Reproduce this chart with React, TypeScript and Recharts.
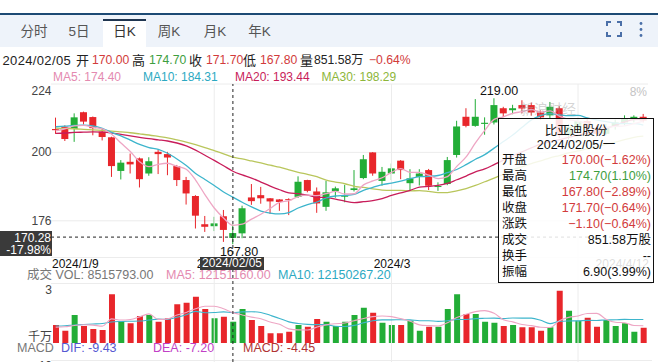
import React from 'react';
import { ComposedChart, Bar, Line, XAxis, YAxis, ReferenceLine, CartesianGrid, Cell } from 'recharts';

const FONT = '"Liberation Sans", Arial, "Noto Sans CJK SC", sans-serif';
const RED = '#e8262b';
const GREEN = '#22ad37';
const TXT_RED = '#d23b3b';
const TXT_GREEN = '#3e9e3e';
const C_MA5 = '#eea6c4';
const C_MA10 = '#3db5cc';
const C_MA20 = '#c81d5a';
const C_MA30 = '#b9c65c';

const dates = [
  '2024/01/09', '2024/01/10', '2024/01/11', '2024/01/12', '2024/01/15', '2024/01/16', '2024/01/17', '2024/01/18', '2024/01/19', '2024/01/22',
  '2024/01/23', '2024/01/24', '2024/01/25', '2024/01/26', '2024/01/29', '2024/01/30', '2024/01/31', '2024/02/01', '2024/02/02', '2024/02/05',
  '2024/02/06', '2024/02/07', '2024/02/08', '2024/02/09', '2024/02/14', '2024/02/15', '2024/02/16', '2024/02/19', '2024/02/20', '2024/02/21',
  '2024/02/22', '2024/02/23', '2024/02/26', '2024/02/27', '2024/02/28', '2024/02/29', '2024/03/01', '2024/03/04', '2024/03/05', '2024/03/06',
  '2024/03/07', '2024/03/08', '2024/03/11', '2024/03/12', '2024/03/13', '2024/03/14', '2024/03/15', '2024/03/18', '2024/03/19', '2024/03/20',
  '2024/03/21', '2024/03/22', '2024/03/25', '2024/03/26', '2024/03/27', '2024/03/28', '2024/04/02', '2024/04/03', '2024/04/05', '2024/04/08',
  '2024/04/09', '2024/04/10', '2024/04/11', '2024/04/12',
];

const opens = [
  208.2, 209.0, 208.2, 214.1, 212.4, 207.3, 205.3, 193.5, 196.7, 197.9,
  192.6, 200.2, 199.4, 195.2, 190.3, 184.7, 174.8, 174.1, 177.6, 170.0,
  171.6, 184.2, 185.0, 183.9, 183.5, 183.6, 184.4, 190.3, 186.3, 180.9,
  186.4, 184.6, 186.8, 191.0, 200.0, 190.0, 192.6, 197.1, 189.2, 191.4,
  193.8, 188.0, 188.9, 199.1, 212.5, 209.3, 210.0, 210.5, 215.5, 214.8,
  216.6, 216.6, 214.0, 213.0, 215.5, 206.0, 208.5, 211.0, 208.5, 206.5,
  209.0, 210.5, 211.5, 212.5,
];
const highs = [
  212.2, 209.5, 213.7, 214.3, 212.6, 208.4, 205.5, 197.3, 199.6, 198.2,
  198.3, 201.0, 200.2, 195.6, 191.4, 185.0, 177.7, 177.4, 179.8, 174.7,
  181.3, 188.9, 187.9, 184.0, 183.6, 183.9, 191.6, 190.4, 187.7, 190.0,
  188.0, 188.6, 193.8, 199.1, 200.1, 194.9, 196.1, 197.3, 194.1, 194.1,
  194.2, 189.5, 198.4, 211.1, 215.5, 218.7, 212.3, 219.0, 216.0, 216.7,
  218.3, 217.5, 214.7, 217.7, 216.2, 210.0, 212.0, 212.0, 209.5, 210.0,
  211.5, 213.0, 213.0, 213.5,
];
const lows = [
  206.5, 204.0, 203.7, 209.8, 206.0, 204.2, 191.4, 190.5, 192.6, 187.7,
  191.8, 192.4, 192.0, 188.2, 181.7, 173.3, 172.1, 172.4, 168.6, 167.8,
  169.9, 181.6, 182.0, 178.4, 179.5, 178.0, 184.0, 186.0, 178.8, 179.5,
  184.1, 182.5, 186.3, 190.6, 191.8, 188.3, 190.3, 190.6, 186.8, 188.4,
  186.8, 186.5, 188.5, 198.2, 208.8, 209.0, 206.2, 209.8, 212.4, 213.4,
  213.7, 212.9, 211.4, 212.0, 205.0, 204.5, 207.5, 207.5, 205.5, 206.0,
  208.0, 209.5, 210.5, 210.5,
];
const closes = [
  207.8, 204.7, 212.3, 210.8, 208.5, 205.4, 195.2, 196.4, 195.8, 190.6,
  196.9, 199.4, 198.2, 190.3, 185.6, 177.8, 173.9, 175.1, 172.8, 171.7,
  180.4, 182.9, 183.9, 182.8, 182.6, 183.3, 189.7, 186.5, 182.1, 186.0,
  187.4, 184.8, 187.4, 197.6, 192.6, 193.2, 194.4, 193.8, 190.9, 192.6,
  188.3, 188.2, 197.3, 209.1, 209.3, 212.5, 210.4, 216.6, 213.7, 215.5,
  215.4, 214.0, 212.3, 216.0, 206.0, 209.0, 211.0, 208.5, 206.5, 209.0,
  210.5, 212.0, 212.5, 211.2,
];
const ma5 = [
  207.6, 208.3, 209.3, 209.5, 208.8, 208.3, 206.4, 203.3, 200.3, 196.7,
  195.0, 195.8, 196.2, 195.1, 194.1, 190.3, 185.2, 180.5, 177.0, 174.4,
  174.8, 176.6, 178.3, 180.3, 182.5, 183.1, 184.5, 185.0, 184.8, 185.5,
  186.3, 185.4, 185.5, 188.6, 190.0, 191.1, 193.0, 194.3, 193.0, 193.0,
  192.0, 190.8, 191.5, 195.1, 198.4, 203.3, 207.7, 211.6, 212.5, 213.7,
  214.3, 215.0, 214.2, 214.6, 212.7, 211.5, 210.9, 210.1, 208.2, 208.8,
  209.1, 209.3, 210.1, 211.0,
];
const ma10 = [
  209.0, 209.2, 209.5, 209.6, 209.3, 208.4, 207.0, 205.8, 204.3, 202.8,
  201.7, 201.1, 199.7, 197.7, 195.4, 192.6, 190.5, 188.4, 186.1, 184.3,
  182.5, 180.9, 179.4, 178.7, 178.4, 178.9, 180.5, 181.7, 182.6, 184.0,
  184.7, 184.9, 185.3, 186.7, 187.7, 188.7, 189.2, 189.9, 190.8, 191.5,
  191.6, 191.9, 192.9, 194.0, 195.7, 197.6, 199.2, 201.5, 203.8, 206.1,
  208.8, 211.4, 212.9, 213.6, 213.2, 212.9, 213.0, 212.1, 211.4, 210.8,
  210.3, 210.1, 210.1, 209.6,
];
const ma20 = [
  206.7, 206.8, 207.0, 207.1, 207.2, 207.1, 206.8, 206.3, 205.8, 205.3,
  204.8, 204.4, 204.0, 203.3, 202.3, 200.8, 199.0, 197.2, 195.3, 193.4,
  192.1, 191.0, 189.6, 188.2, 186.9, 185.8, 185.5, 185.0, 184.3, 184.1,
  183.6, 182.9, 182.4, 182.7, 183.1, 183.8, 184.9, 185.8, 186.7, 187.8,
  188.1, 188.4, 189.1, 190.4, 191.7, 193.2, 194.2, 195.7, 197.3, 198.8,
  200.2, 201.6, 202.9, 203.8, 204.5, 205.3, 206.1, 206.8, 207.6, 208.4,
  209.5, 210.7, 211.5, 211.6,
];
const ma30 = [
  208.5, 208.4, 208.3, 208.1, 207.9, 207.7, 207.5, 207.2, 206.9, 206.5,
  206.1, 205.6, 205.1, 204.4, 203.6, 202.7, 201.7, 200.6, 199.5, 198.3,
  197.7, 197.0, 196.3, 195.5, 194.8, 193.9, 193.0, 192.3, 191.5, 190.3,
  189.6, 189.0, 188.1, 187.7, 187.2, 186.8, 186.7, 186.7, 186.5, 186.6,
  186.3, 185.9, 185.9, 186.5, 187.3, 188.4, 189.7, 191.0, 192.4, 193.9,
  195.0, 196.1, 197.0, 198.1, 198.9, 199.8, 200.5, 201.2, 202.0, 202.8,
  203.6, 204.5, 205.3, 205.7,
];
// volume in 万股
const volumes = [
  720, 490, 1120, 680, 560, 520, 1950, 880, 790, 1080,
  1120, 850, 990, 1550, 1610, 1850, 1360, 990, 1050, 851.58,
  1360, 920, 680, 390, 390, 450, 720, 650, 960, 850,
  680, 850, 1120, 1410, 1210, 810, 720, 720, 890, 490,
  650, 650, 1360, 1950, 1160, 1160, 850, 810, 680, 720,
  630, 630, 490, 630, 2090, 1290, 890, 1010, 650, 920,
  680, 790, 450, 610,
];
const volMa5 = [
  630, 650, 700, 730, 714, 674, 966, 918, 940, 1044,
  1164, 944, 966, 1118, 1224, 1370, 1472, 1472, 1372, 1215.1,
  1122, 1034, 972, 840, 748, 566, 526, 520, 634, 726,
  772, 798, 892, 982, 1054, 1080, 1054, 974, 870, 726,
  694, 680, 808, 1020, 1154, 1256, 1296, 1186, 932, 844,
  738, 694, 630, 620, 894, 1026, 1078, 1182, 1186, 952,
  830, 810, 698, 690,
];
const volMa10 = [
  680, 690, 720, 740, 760, 780, 840, 860, 870, 879,
  919, 955, 942, 1029, 1134, 1267, 1208, 1219, 1245, 1215.0,
  1246, 1253, 1222, 1106, 984, 844, 780, 746, 737, 737,
  669, 662, 706, 808, 890, 926, 926, 933, 926, 890,
  887, 867, 891, 945, 940, 975, 988, 997, 976, 999,
  997, 995, 908, 776, 869, 882, 886, 906, 903, 923,
  928, 944, 940, 938,
];

const priceTicks = [176, 200, 224];
const monthStarts = ['2024/02/01', '2024/03/01', '2024/04/02'];
const crossDate = '2024/02/05';
const crossPrice = 170.28;

const tabs = ['分时', '5日', '日K', '周K', '月K', '年K'];

const tooltipRows = [
  { label: '开盘', value: '170.00(−1.62%)', color: TXT_RED },
  { label: '最高', value: '174.70(1.10%)', color: TXT_GREEN },
  { label: '最低', value: '167.80(−2.89%)', color: TXT_RED },
  { label: '收盘', value: '171.70(−0.64%)', color: TXT_RED },
  { label: '涨跌', value: '−1.10(−0.64%)', color: TXT_RED },
  { label: '成交', value: '851.58万股', color: '#111' },
  { label: '换手', value: '--', color: '#111' },
  { label: '振幅', value: '6.90(3.99%)', color: '#111' },
];

const data = dates.map((d, i) => ({
  date: d,
  open: opens[i],
  high: highs[i],
  low: lows[i],
  close: closes[i],
  range: [lows[i], highs[i]],
  ma5: ma5[i],
  ma10: ma10[i],
  ma20: ma20[i],
  ma30: ma30[i],
  vol: volumes[i],
  vma5: volMa5[i],
  vma10: volMa10[i],
}));

const Candle = (props: any) => {
  const { x, y, width, height, payload } = props;
  if (!payload) return null;
  const { open, close, high, low } = payload;
  const color = close >= open ? GREEN : RED;
  const top = Math.min(y, y + height);
  const h = Math.abs(height);
  const ratio = high > low ? h / (high - low) : 0;
  const bodyTop = top + (high - Math.max(open, close)) * ratio;
  const bodyH = Math.max(1, Math.abs(open - close) * ratio);
  const cx = x + width / 2;
  return (
    <g>
      <line x1={cx} x2={cx} y1={top} y2={top + h} stroke={color} strokeWidth={1} />
      <rect x={x} y={bodyTop} width={width} height={bodyH} fill={color} />
    </g>
  );
};

const PriceTick = (props: any) => {
  const { x, y, payload } = props;
  const dy = payload.value === 224 ? 7 : 0;
  return (
    <text x={x + 0.5} y={y + dy} textAnchor="end" dominantBaseline="central" fill="#444" fontSize={12} fontFamily={FONT}>
      {payload.value}
    </text>
  );
};

type TProps = { x: number; y: number; children: React.ReactNode; color?: string; size?: number; anchor?: 'start' | 'middle' | 'end'; style?: React.CSSProperties };
const T = ({ x, y, children, color = '#222', size = 13, anchor = 'start', style }: TProps) => {
  const s: React.CSSProperties = {
    position: 'absolute',
    top: y - size * 0.6,
    lineHeight: `${size * 1.2}px`,
    fontSize: size,
    color,
    whiteSpace: 'nowrap',
    fontFamily: FONT,
    ...style,
  };
  if (anchor === 'start') s.left = x;
  else if (anchor === 'end') s.right = 664 - x;
  else {
    s.left = x;
    s.transform = 'translateX(-50%)';
  }
  return <div style={s}>{children}</div>;
};

const HLine = ({ y, x1 = 51, x2 = 652, color = '#ececec' }: { y: number; x1?: number; x2?: number; color?: string }) => (
  <div style={{ position: 'absolute', left: x1, top: y, width: x2 - x1, height: 1, background: color }} />
);

export default function App() {
  const tabCenters = [34, 79, 124.5, 169, 215, 259.5];
  const headerTokens: { x: number; t: string; c: string; s: number }[] = [
    { x: 2.5, t: '2024/02/05', c: '#222', s: 13 },
    { x: 76, t: '开', c: '#222', s: 13 },
    { x: 92, t: '170.00', c: TXT_RED, s: 12.2 },
    { x: 132, t: '高', c: '#222', s: 13 },
    { x: 149, t: '174.70', c: TXT_GREEN, s: 12.2 },
    { x: 189, t: '收', c: '#222', s: 13 },
    { x: 206, t: '171.70', c: TXT_RED, s: 12.2 },
    { x: 243, t: '低', c: '#222', s: 13 },
    { x: 260, t: '167.80', c: TXT_RED, s: 12.2 },
    { x: 300, t: '量', c: '#222', s: 13 },
    { x: 314, t: '851.58万', c: '#222', s: 12.2 },
    { x: 369, t: '−0.64%', c: TXT_RED, s: 12.2 },
  ];
  return (
    <div style={{ position: 'absolute', left: 0, top: 0, width: 664, height: 362, overflow: 'hidden', background: '#fff', fontFamily: FONT }}>
      {/* tab bar */}
      <div style={{ position: 'absolute', left: 0, top: 12.5, width: 658, height: 2, background: '#1d4a74' }} />
      <div style={{ position: 'absolute', left: 0, top: 14.5, width: 658, height: 32, background: '#eef3fa' }} />
      <div style={{ position: 'absolute', left: 102.5, top: 18.5, width: 43.5, height: 28.5, background: '#fff', borderTop: '2px solid #1f3550', boxSizing: 'border-box' }} />
      {tabs.map((t, i) => (
        <T key={t} x={tabCenters[i]} y={32.3} anchor="middle" size={13.5} color={i === 2 ? '#333' : '#555'}>{t}</T>
      ))}
      {/* fullscreen icon */}
      <svg style={{ position: 'absolute', left: 604, top: 19 }} width={20} height={20}>
        <path d="M3 7 V3 H7 M13 3 H17 V7 M17 13 V17 H13 M7 17 H3 V13" stroke="#4a6fa8" strokeWidth={2} fill="none" />
      </svg>
      <svg style={{ position: 'absolute', left: 636, top: 19 }} width={10} height={20}>
        <circle cx={5} cy={4.5} r={1.4} fill="#4a6fa8" />
        <circle cx={5} cy={10.5} r={1.4} fill="#4a6fa8" />
        <circle cx={5} cy={16.5} r={1.4} fill="#4a6fa8" />
      </svg>

      {/* header line */}
      {headerTokens.map((tk) => (
        <T key={tk.x} x={tk.x} y={60.7} size={tk.s} color={tk.c} style={tk.t === '2024/02/05' ? { letterSpacing: 0.35 } : undefined}>{tk.t}</T>
      ))}
      <T x={53} y={76.7} size={12} color="#e48ab0">MA5: 174.40</T>
      <T x={143} y={76.7} size={12} color="#2ca9c2">MA10: 184.31</T>
      <T x={235} y={76.7} size={12} color={C_MA20}>MA20: 193.44</T>
      <T x={321.5} y={76.7} size={12} color="#8db63a">MA30: 198.29</T>

      {/* pane boundary lines */}
      <HLine y={256.5} />
      <HLine y={283} />
      <HLine y={360} />

      <div style={{ position: 'absolute', left: 0, top: 0 }}>
        <ComposedChart width={664} height={362} data={data} margin={{ top: 84, right: 16, bottom: 0, left: 0 }}>
          <XAxis xAxisId="c" dataKey="date" hide />
          <XAxis xAxisId="v" dataKey="date" hide />
          <YAxis
            yAxisId="p"
            domain={[126.46, 224]}
            allowDataOverflow
            ticks={priceTicks}
            width={51}
            axisLine={false}
            tickLine={false}
            tickSize={0}
            tickMargin={0}
            tick={<PriceTick />}
          />
          <YAxis yAxisId="v" domain={[-760, 10360]} allowDataOverflow hide />
          <CartesianGrid xAxisId="c" yAxisId="p" vertical={false} horizontalValues={priceTicks} stroke="#ececec" />
          {monthStarts.map((m) => (
            <ReferenceLine key={m} xAxisId="c" yAxisId="p" x={m} stroke="#ececec" />
          ))}
          <Bar xAxisId="c" yAxisId="p" dataKey="range" barSize={7} shape={<Candle />} isAnimationActive={false} />
          <Bar xAxisId="v" yAxisId="v" dataKey="vol" barSize={6} isAnimationActive={false}>
            {data.map((d) => (
              <Cell key={d.date} fill={d.close >= d.open ? GREEN : RED} />
            ))}
          </Bar>
          <Line xAxisId="c" yAxisId="p" dataKey="ma30" type="monotone" stroke={C_MA30} strokeWidth={1.3} dot={false} isAnimationActive={false} />
          <Line xAxisId="c" yAxisId="p" dataKey="ma20" type="monotone" stroke={C_MA20} strokeWidth={1.3} dot={false} isAnimationActive={false} />
          <Line xAxisId="c" yAxisId="p" dataKey="ma10" type="monotone" stroke={C_MA10} strokeWidth={1.3} dot={false} isAnimationActive={false} />
          <Line xAxisId="c" yAxisId="p" dataKey="ma5" type="monotone" stroke={C_MA5} strokeWidth={1.3} dot={false} isAnimationActive={false} />
          <Line xAxisId="v" yAxisId="v" dataKey="vma10" type="monotone" stroke={C_MA10} strokeWidth={1.1} dot={false} isAnimationActive={false} />
          <Line xAxisId="v" yAxisId="v" dataKey="vma5" type="monotone" stroke={C_MA5} strokeWidth={1.1} dot={false} isAnimationActive={false} />
          <ReferenceLine xAxisId="c" yAxisId="p" x={crossDate} stroke="#222" strokeDasharray="3 3" />
          <ReferenceLine xAxisId="c" yAxisId="p" y={crossPrice} stroke="#222" strokeDasharray="3 3" />
        </ComposedChart>
      </div>

      {/* chart annotations */}
      <T x={647} y={92} size={12} color="#c4c4c4" anchor="end">8%</T>
      <T x={499} y={91.5} size={12.5} color="#111" anchor="middle">219.00</T>
      <T x={239} y={252.5} size={12.5} color="#111" anchor="middle">167.80</T>
      <T x={520} y={109} size={14} color="rgba(160,160,160,0.45)">新浪财经</T>

      {/* x labels */}
      <T x={52} y={264} size={12} color="#111">2024/1/9</T>
      <T x={215} y={264} size={12} color="#111" anchor="middle">2024/2</T>
      <T x={392} y={264} size={12} color="#111" anchor="middle">2024/3</T>
      <T x={649} y={264} size={12} color="#111" anchor="end">2024/4/12</T>

      {/* volume row */}
      <T x={27} y={275.5} size={12.5} color="#777">成交 VOL: 8515793.00</T>
      <T x={166} y={275.5} size={12.5} color="#e48ab0">MA5: 12151160.00</T>
      <T x={278} y={275.5} size={12.5} color="#2ca9c2">MA10: 12150267.20</T>
      <T x={52} y={290} size={12} color="#444" anchor="end">3</T>
      <T x={52} y={337} size={12} color="#444" anchor="end">千万</T>

      {/* MACD row */}
      <T x={17} y={348} size={12.5} color="#777">MACD</T>
      <T x={61} y={348} size={12.5} color="#5558d2">DIF: -9.43</T>
      <T x={153} y={348} size={12.5} color="#c13fc6">DEA: -7.20</T>
      <T x={243} y={348} size={12.5} color="#b03333">MACD: -4.45</T>
      <T x={52} y={366} size={12} color="#444" anchor="end">10</T>

      {/* crosshair labels */}
      <div style={{ position: 'absolute', left: 0, top: 231, width: 52, height: 25, background: '#3a3a3a' }} />
      <T x={51} y={237.8} size={12} color="#fff" anchor="end">170.28</T>
      <T x={51} y={250} size={12} color="#fff" anchor="end">-17.98%</T>
      <div style={{ position: 'absolute', left: 200, top: 257, width: 64, height: 13, background: '#3a3a3a' }} />
      <T x={232} y={263.5} size={12} color="#fff" anchor="middle">2024/02/05</T>

      {/* tooltip */}
      <div style={{ position: 'absolute', left: 498, top: 117.5, width: 156, height: 165.5, background: 'rgba(255,255,255,0.86)', border: '1.5px solid #111', boxSizing: 'border-box' }} />
      <T x={576} y={131} size={12.5} color="#111" anchor="middle">比亚迪股份</T>
      <T x={576} y={145} size={12.5} color="#111" anchor="middle">2024/02/05/一</T>
      {tooltipRows.map((r, i) => (
        <React.Fragment key={r.label}>
          <T x={502} y={160 + i * 16.1} size={12.5} color="#111">{r.label}</T>
          <T x={651} y={160 + i * 16.1} size={12.5} color={r.color} anchor="end">{r.value}</T>
        </React.Fragment>
      ))}
    </div>
  );
}
